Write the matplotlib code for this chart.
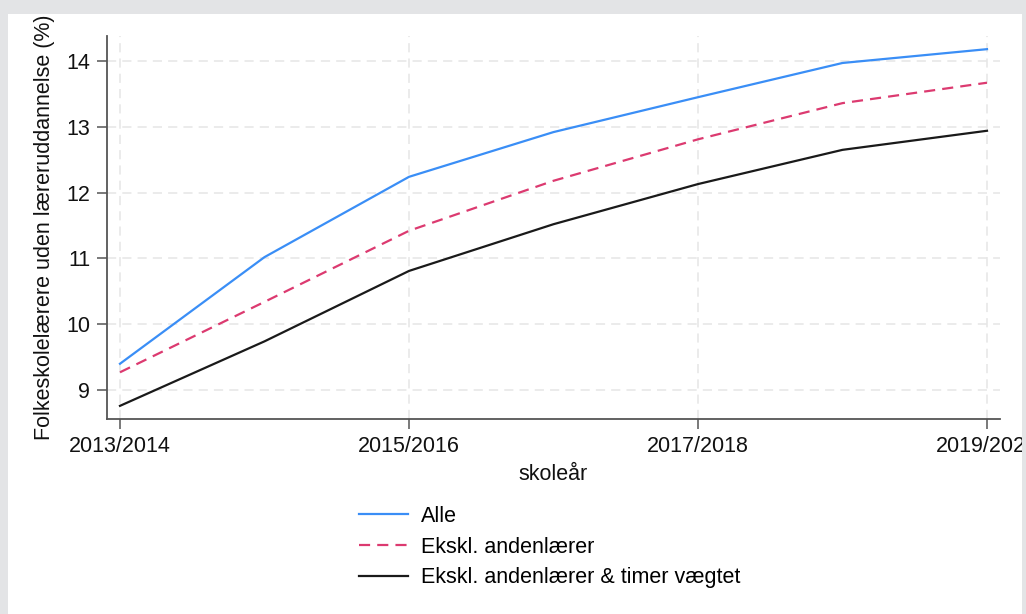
import matplotlib
matplotlib.use("Agg")
import matplotlib.pyplot as plt
from matplotlib.patches import Rectangle

plt.rcParams['font.family'] = ['Liberation Sans', 'DejaVu Sans']

tick_labels = ["2013/2014", "2015/2016", "2017/2018", "2019/2020"]
years = [0, 1, 2, 3, 4, 5, 6]
tick_years = [0, 2, 4, 6]
alle = [9.40, 11.02, 12.24, 12.92, 13.45, 13.97, 14.18]
ekskl = [9.27, 10.34, 11.42, 12.18, 12.81, 13.36, 13.67]
ekskl_timer = [8.76, 9.74, 10.81, 11.52, 12.13, 12.65, 12.94]
yticks = [9, 10, 11, 12, 13, 14]

W, H = 1026, 614
fig = plt.figure(figsize=(W / 100, H / 100), dpi=100)
fig.patch.set_facecolor('white')

ax = fig.add_axes([107 / W, 1 - 419 / H, (1000 - 107) / W, (419 - 36) / H])
ax.set_facecolor('white')

l1, = ax.plot(years, alle, color='#3a8ef6', lw=1.6, label='Alle')
l2, = ax.plot(years, ekskl, color='#dc3a70', lw=1.6, ls=(0, (5, 3.2)), label='Ekskl. andenlærer')
l3, = ax.plot(years, ekskl_timer, color='#1a1a1a', lw=1.6, label='Ekskl. andenlærer & timer vægtet')

ax.set_xlim(-0.09, 6.09)
ax.set_ylim(8.56, 14.38)
ax.set_xticks(tick_years)
ax.set_xticklabels(tick_labels)
ax.set_yticks(yticks)

for s in ['top', 'right']:
    ax.spines[s].set_visible(False)
for s in ['left', 'bottom']:
    ax.spines[s].set_color('#555555')
    ax.spines[s].set_linewidth(1.3)

ax.tick_params(axis='both', direction='out', length=7, width=1.1, color='#555555',
               labelsize=15.5, labelcolor='#111111', pad=5)
ax.grid(True, color='#e6e6e6', ls=(0, (6, 4)), lw=1.1)
ax.set_axisbelow(True)

ax.set_xlabel('skoleår', fontsize=15.5, color='#111111', labelpad=5)
ax.set_ylabel('Folkeskolelærere uden læreruddannelse (%)', fontsize=15.5, color='#111111', labelpad=8)

leg = fig.legend(handles=[l1, l2, l3], loc='upper left',
                 bbox_to_anchor=(359 / W, 1 - 506 / H), frameon=False,
                 fontsize=15.5, handlelength=2.28, handletextpad=0.6,
                 labelspacing=0.45, borderaxespad=0, borderpad=0)

gray = '#e3e4e6'
fig.add_artist(Rectangle((0, 1 - 14 / H), 1, 14 / H, transform=fig.transFigure,
                         facecolor=gray, edgecolor='none', zorder=10))
fig.add_artist(Rectangle((0, 0), 8 / W, 1, transform=fig.transFigure,
                         facecolor=gray, edgecolor='none', zorder=10))
fig.add_artist(Rectangle((1022 / W, 0), 4 / W, 1, transform=fig.transFigure,
                         facecolor=gray, edgecolor='none', zorder=10))

fig.savefig('out.png', dpi=100, facecolor=fig.get_facecolor())
